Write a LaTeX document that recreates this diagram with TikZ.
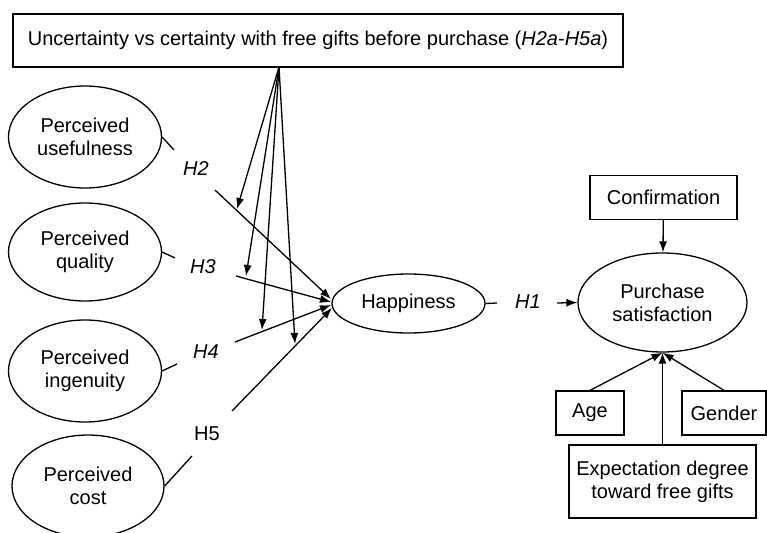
\documentclass[tikz,border=0pt]{standalone}
\usepackage{fontspec}
\setmainfont{Liberation Sans}
\usetikzlibrary{shapes.geometric,arrows.meta}
\begin{document}
\begin{tikzpicture}[x=1pt,y=-1pt,
  font=\fontsize{20}{23}\selectfont,
  line width=1.3pt,
  ell/.style={draw,ellipse,inner sep=0pt,align=center},
  bx/.style={draw,rectangle,inner sep=0pt,align=center},
  hyp/.style={font=\fontsize{20}{23}\selectfont\itshape},
  arr/.style={-{Latex[length=11pt,width=8pt]}}
]
\useasboundingbox (0,0) rectangle (767,532);
% top box
\node[bx,minimum width=610,minimum height=53] (top) at (318,40.5)
  {Uncertainty vs certainty with free gifts before purchase (\textit{H2a}-\textit{H5a})};
% left ellipses
\node[ell,minimum width=153,minimum height=102] (pu) at (85,137) {Perceived\\usefulness};
\node[ell,minimum width=153,minimum height=98] (pq) at (85,252) {Perceived\\quality};
\node[ell,minimum width=153,minimum height=102] (pi) at (85,371) {Perceived\\ingenuity};
\node[ell,minimum width=152,minimum height=102] (pc) at (88,486) {Perceived\\cost};
% happiness
\node[ell,minimum width=153,minimum height=59] (hap) at (408.5,303.5) {Happiness};
% purchase satisfaction
\node[ell,minimum width=169,minimum height=99] (ps) at (662.5,302.5) {Purchase\\satisfaction};
% boxes on right
\node[bx,minimum width=147,minimum height=44] (conf) at (663.5,197.5) {Confirmation};
\node[bx,minimum width=68,minimum height=44] (age) at (590,413) {Age};
\node[bx,minimum width=84,minimum height=44] (gen) at (724,413) {Gender};
\node[bx,minimum width=187,minimum height=73] (exp) at (662.5,481.5) {Expectation degree\\toward free gifts};
% hypothesis labels
\node[hyp] (h2) at (196,169) {H2};
\node[hyp] (h3) at (203,267) {H3};
\node[hyp] (h4) at (206,352) {H4};
\node (h5) at (207,434) {H5};
\node[hyp] (h1) at (528,302) {H1};
% coordinates
\coordinate (a2) at (174,150);
\coordinate (b2) at (215,190);
\coordinate (a3) at (175,258);
\coordinate (b3) at (236,276);
\coordinate (a4) at (177,364);
\coordinate (b4) at (235,342);
\coordinate (a5) at (192,456);
\coordinate (b5) at (232,411);
\coordinate (e2) at (331,299);
\coordinate (e3) at (331,302);
\coordinate (e4) at (331,305);
\coordinate (e5) at (332,308);
\coordinate (fan) at (279,67);
\coordinate (t1) at (237,209);
\coordinate (t2) at (246,276);
\coordinate (t3) at (262,330);
\coordinate (t4) at (295,344);
\coordinate (a1) at (497,303);
\coordinate (b1) at (557,303);
% connectors
\draw (pu.east) -- (a2);
\draw[arr] (b2) -- (e2);
\draw (pq.east) -- (a3);
\draw[arr] (b3) -- (e3);
\draw (pi.east) -- (a4);
\draw[arr] (b4) -- (e4);
\draw (pc.east) -- (a5);
\draw[arr] (b5) -- (e5);
\draw[arr] (fan) -- (t1);
\draw[arr] (fan) -- (t2);
\draw[arr] (fan) -- (t3);
\draw[arr] (fan) -- (t4);
\draw (hap.east) -- (a1);
\draw[arr] (b1) -- (ps.west);
\draw[arr] (conf) -- (ps);
\draw[arr] (age.north) -- (ps.south);
\draw[arr] (gen.north) -- (ps.south);
\draw[arr] (exp.north) -- (ps.south);
\end{tikzpicture}
\end{document}
